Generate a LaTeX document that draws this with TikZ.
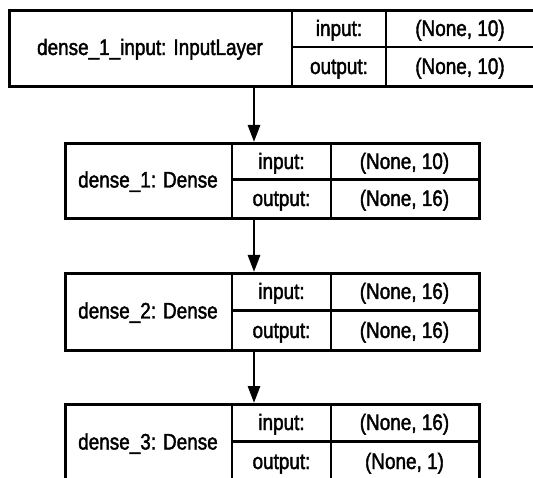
\documentclass[tikz,border=0pt]{standalone}
\usepackage{graphicx}
\usepackage{fontspec}
\setmainfont{Liberation Sans}
\newfontfamily\lblfont{Liberation Sans}[FakeBold=2]
\usetikzlibrary{arrows.meta}
\newcommand\tallt[1]{\scalebox{0.97}[1.15]{#1}}
\begin{document}
\begin{tikzpicture}[x=1pt,y=-1pt,
  box/.style={draw, line width=2.8pt, inner sep=0pt, anchor=north west},
  sep/.style={line width=2.8pt},
  txt/.style={font=\lblfont\fontsize{19.5}{22}\selectfont, inner sep=0pt, text height=19pt, text depth=3pt},
  arr/.style={line width=2.8pt, -{Triangle[length=17pt,width=12pt]}}]
\useasboundingbox (0,0) rectangle (533,478);
% box 1
\node[box, minimum width=527pt, minimum height=76pt] (b1) at (8,9) {};
\draw[sep] (292,9) -- (292,85);
\draw[sep] (386,9) -- (386,85);
\draw[sep] (292,47) -- (535,47);
\node[txt] (b1l) at (150,47) {\tallt{dense\_1\_input: InputLayer}};
\node[txt] (b1i) at (339,28) {\tallt{input:}};
\node[txt] (b1o) at (339,66) {\tallt{output:}};
\node[txt] (b1iv) at (460,28) {\tallt{(None, 10)}};
\node[txt] (b1ov) at (460,66) {\tallt{(None, 10)}};
% box 2
\node[box, minimum width=414pt, minimum height=75pt] (b2) at (64,142) {};
\draw[sep] (232,142) -- (232,217);
\draw[sep] (331,142) -- (331,217);
\draw[sep] (232,179.5) -- (478,179.5);
\node[txt] (b2l) at (148,179.5) {\tallt{dense\_1: Dense}};
\node[txt] (b2i) at (281.5,161) {\tallt{input:}};
\node[txt] (b2o) at (281.5,198) {\tallt{output:}};
\node[txt] (b2iv) at (404.5,161) {\tallt{(None, 10)}};
\node[txt] (b2ov) at (404.5,198) {\tallt{(None, 16)}};
% box 3
\node[box, minimum width=414pt, minimum height=77pt] (b3) at (64,272) {};
\draw[sep] (232,272) -- (232,349);
\draw[sep] (331,272) -- (331,349);
\draw[sep] (232,310.5) -- (478,310.5);
\node[txt] (b3l) at (148,310.5) {\tallt{dense\_2: Dense}};
\node[txt] (b3i) at (281.5,291) {\tallt{input:}};
\node[txt] (b3o) at (281.5,330) {\tallt{output:}};
\node[txt] (b3iv) at (404.5,291) {\tallt{(None, 16)}};
\node[txt] (b3ov) at (404.5,330) {\tallt{(None, 16)}};
% box 4
\node[box, minimum width=414pt, minimum height=77pt] (b4) at (64,403) {};
\draw[sep] (232,403) -- (232,480);
\draw[sep] (331,403) -- (331,480);
\draw[sep] (232,441.5) -- (478,441.5);
\node[txt] (b4l) at (148,441.5) {\tallt{dense\_3: Dense}};
\node[txt] (b4i) at (281.5,422) {\tallt{input:}};
\node[txt] (b4o) at (281.5,461) {\tallt{output:}};
\node[txt] (b4iv) at (404.5,422) {\tallt{(None, 16)}};
\node[txt] (b4ov) at (404.5,461) {\tallt{(None, 1)}};
% connectors
\coordinate (ax) at (254,0);
\draw[arr] (b1.south -| ax) -- (b2.north -| ax);
\draw[arr] (b2.south -| ax) -- (b3.north -| ax);
\draw[arr] (b3.south -| ax) -- (b4.north -| ax);
\end{tikzpicture}
\end{document}
